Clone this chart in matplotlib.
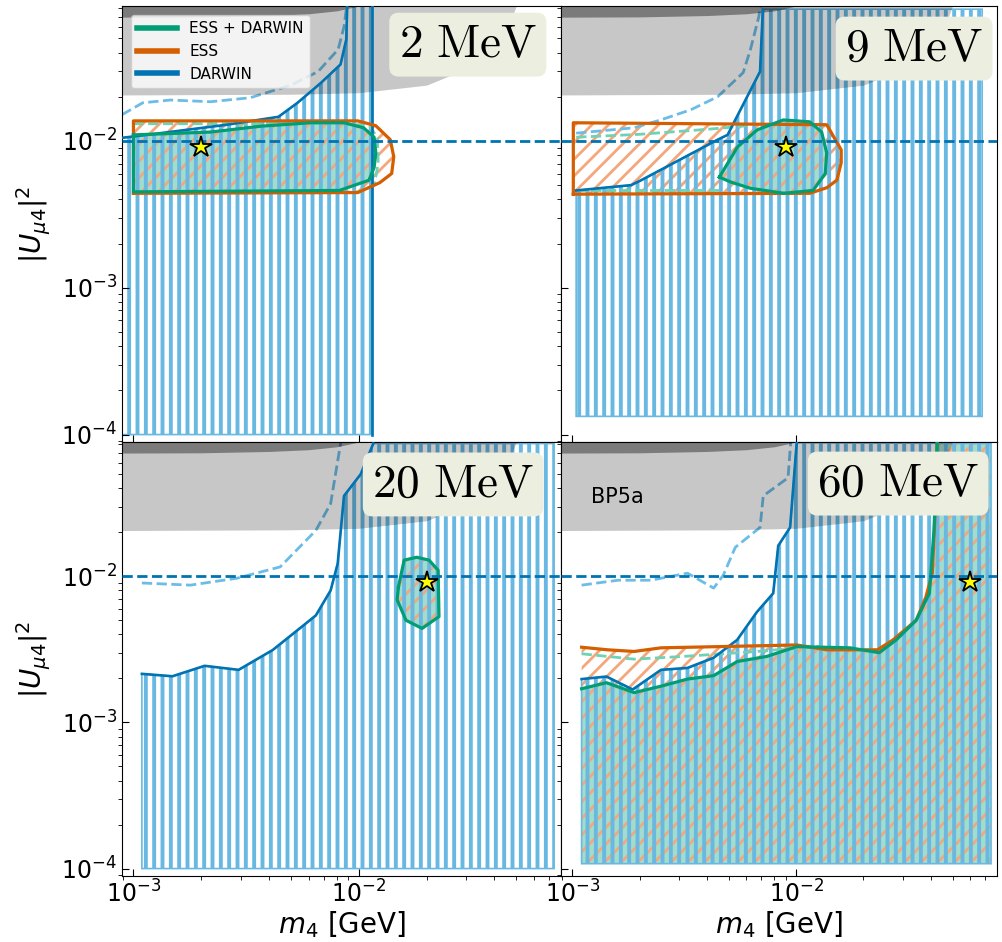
import numpy as np
import matplotlib
matplotlib.use("Agg")
import matplotlib.pyplot as plt
from matplotlib.patches import Polygon
from matplotlib.lines import Line2D

######################################################################
# Colours (colorblind palette)
C_DARWIN = "#0173B2"
C_ESS = "#D55E00"
C_BOTH = "#029E73"
C_HATCH_BLUE = "#68B8E2"
C_HATCH_ORANGE = "#F4A77C"
C_LIGHT_BLUE = "#6CBDE6"
C_LIGHT_GREEN = "#6ED2B4"
C_LABEL_BOX = "#ECEEDF"

XLIM = (8.9e-4, 0.079)
YLIM = (8.9e-5, 0.083)

######################################################################
# Existing bounds (grey bands, same in every panel)
gray_x = [5e-4, 5e-3, 1e-2, 2e-2, 3e-2, 4e-2, 4.6e-2, 5e-2]
gray_lo = [0.0205, 0.0208, 0.0213, 0.024, 0.031, 0.045, 0.06, 0.083]
band_x = [5e-4, 2e-3, 4e-3, 6e-3, 8e-3, 1e-2]
band_lo = [0.0695, 0.070, 0.0715, 0.0735, 0.077, 0.083]

######################################################################
# 2 MeV
d2_x = [8.9e-4, 1.32e-3, 2.6e-3, 4.4e-3, 5.35e-3, 6.8e-3, 8.3e-3, 8.8e-3, 8.9e-3]
d2_y = [0.0105, 0.0113, 0.0129, 0.0146, 0.0182, 0.0249, 0.0332, 0.049, 0.09]
lb2_x = [8.9e-4, 1.1e-3, 1.46e-3, 2.2e-3, 3.3e-3, 5.0e-3, 6.6e-3, 8.1e-3, 8.6e-3, 8.9e-3]
lb2_y = [0.0151, 0.0182, 0.019, 0.0185, 0.0197, 0.024, 0.0297, 0.042, 0.06, 0.09]
e2_x = [1.0e-3, 1.0e-3, 0.0099, 0.0119, 0.0138, 0.0143, 0.014, 0.0124, 0.0099]
e2_y = [4.4e-3, 0.0137, 0.0137, 0.0127, 0.0102, 7.8e-3, 6.0e-3, 5.2e-3, 4.45e-3]
g2_x = [1.0e-3, 2.2e-3, 3.67e-3, 6.1e-3, 8.6e-3, 0.0105, 0.0117, 0.0119, 0.0117,
        0.0111, 8.2e-3, 1.0e-3]
g2_y = [0.011, 0.0115, 0.0126, 0.0133, 0.0133, 0.0123, 0.0106, 8.3e-3, 6.6e-3,
        5.4e-3, 4.6e-3, 4.5e-3]
gd2_x = [1.0e-3, 3e-3, 8e-3, 0.0112, 0.0121, 0.0122, 0.0117, 0.0100, 1.0e-3, 1.0e-3]
gd2_y = [0.0131, 0.0131, 0.0133, 0.0126, 0.0105, 7e-3, 5.0e-3, 4.5e-3, 4.5e-3, 0.0131]
star2 = (2.0e-3, 9.1e-3)

# 9 MeV
d9_x = [1.04e-3, 1.83e-3, 2.03e-3, 4.46e-3, 4.94e-3, 6.9e-3, 7.1e-3]
d9_y = [4.6e-3, 5.0e-3, 5.4e-3, 0.0102, 0.011, 0.0297, 0.079]
lb9_x = [1.04e-3, 1.89e-3, 2.48e-3, 3.38e-3, 4.46e-3, 5.8e-3, 6.25e-3, 6.8e-3, 7.0e-3]
lb9_y = [0.0113, 0.0123, 0.0139, 0.0163, 0.020, 0.0292, 0.042, 0.0695, 0.09]
e9_x = [1.01e-3, 1.01e-3, 0.0137, 0.0159, 0.0159, 0.0152, 0.0137, 0.0115]
e9_y = [4.34e-3, 0.0133, 0.0129, 8.7e-3, 7.1e-3, 5.4e-3, 4.8e-3, 4.4e-3]
g9_x = [4.54e-3, 5.47e-3, 6.7e-3, 8.76e-3, 0.0115, 0.013, 0.0137, 0.0135, 0.0119,
        8.8e-3, 6.25e-3, 5.1e-3]
g9_y = [5.67e-3, 9.1e-3, 0.0119, 0.0139, 0.0135, 0.0115, 8.3e-3, 6.0e-3, 4.6e-3,
        4.4e-3, 4.76e-3, 5.25e-3]
gd9_top_x = [1.04e-3, 2e-3, 4e-3, 6.06e-3]
gd9_top_y = [0.0106, 0.0111, 0.0120, 0.0127]
gd9_bot_x = [1.04e-3, 4.7e-3]
gd9_bot_y = [4.6e-3, 4.6e-3]
star9 = (9.0e-3, 9.1e-3)

# 20 MeV
d20_x = [1.09e-3, 1.49e-3, 2.07e-3, 2.93e-3, 4.15e-3, 5.57e-3, 6.45e-3, 7.5e-3,
         8.06e-3, 8.6e-3, 0.0102, 0.0116]
d20_y = [2.15e-3, 2.07e-3, 2.44e-3, 2.29e-3, 3.13e-3, 4.5e-3, 5.4e-3, 8.0e-3,
         0.0122, 0.0355, 0.05, 0.081]
lb20_x = [1.09e-3, 1.79e-3, 2.88e-3, 4.48e-3, 6.45e-3, 7.5e-3, 8.2e-3, 8.4e-3]
lb20_y = [9.0e-3, 8.7e-3, 9.7e-3, 0.0116, 0.0206, 0.0314, 0.072, 0.09]
g20_x = [0.015, 0.0159, 0.0181, 0.0205, 0.0225, 0.0227, 0.0191, 0.0162, 0.0148]
g20_y = [8.46e-3, 0.0129, 0.0135, 0.0129, 0.0110, 5.3e-3, 4.4e-3, 5.0e-3, 6.9e-3]
star20 = (0.020, 9.1e-3)

# 60 MeV
d60_x = [1.10e-3, 1.42e-3, 1.86e-3, 2.49e-3, 3.27e-3, 4.28e-3, 5.45e-3, 6.68e-3,
         7.90e-3, 8.32e-3, 9.4e-3, 0.01006]
d60_y = [1.98e-3, 2.06e-3, 1.68e-3, 2.29e-3, 2.36e-3, 2.77e-3, 3.67e-3, 5.7e-3,
         7.65e-3, 0.0162, 0.0216, 0.082]
lb60_x = [1.1e-3, 1.6e-3, 2.24e-3, 3.27e-3, 4.28e-3, 4.73e-3, 5.35e-3, 6.9e-3,
          7.13e-3, 9.2e-3, 9.5e-3]
lb60_y = [8.7e-3, 9.4e-3, 9.4e-3, 0.0105, 8.3e-3, 0.0102, 0.0158, 0.0216, 0.0355,
          0.0472, 0.09]
e60_x = [1.1e-3, 1.44e-3, 1.89e-3, 2.49e-3, 4.44e-3, 0.01006, 0.0137, 0.0231,
         0.0271, 0.0344, 0.038, 0.0406, 0.042, 0.0427]
e60_y = [3.27e-3, 3.14e-3, 3.06e-3, 3.24e-3, 3.30e-3, 3.39e-3, 3.14e-3, 3.14e-3,
         3.67e-3, 5.0e-3, 7.2e-3, 0.0105, 0.0318, 0.082]
g60_x = [1.1e-3, 1.42e-3, 1.89e-3, 2.49e-3, 3.27e-3, 4.28e-3, 5.45e-3, 7.4e-3,
         0.01006, 0.0174, 0.0235, 0.028, 0.0344, 0.0394, 0.0413, 0.0427]
g60_y = [1.70e-3, 1.87e-3, 1.60e-3, 1.77e-3, 1.98e-3, 2.09e-3, 2.61e-3, 2.83e-3,
         3.30e-3, 3.24e-3, 3.0e-3, 3.67e-3, 5.0e-3, 7.65e-3, 0.0206, 0.082]
gd60_x = [1.1e-3, 1.89e-3, 3.14e-3, 6.68e-3, 0.0132]
gd60_y = [2.95e-3, 2.71e-3, 2.83e-3, 3.06e-3, 3.34e-3]
star60 = (0.0597, 9.1e-3)

# scan grid edges per panel: (right edge, top, bottom)
grid2 = (0.0115, 0.09, 1.0e-4)
grid9 = (0.0678, 0.079, 1.33e-4)
grid20 = (0.0736, 0.081, 1.0e-4)
grid60 = (0.0743, 0.081, 1.08e-4)

panel_labels = ["2", "9", "20", "60"]
legend_labels = ["ESS + DARWIN", "ESS", "DARWIN"]


def hatch_poly(ax, xs, ys, color, hatch, hlw, lw=0.0, z=1):
    plt.rcParams["hatch.linewidth"] = hlw
    p = Polygon(np.column_stack([xs, ys]), closed=True, facecolor="none",
                edgecolor=color, hatch=hatch, lw=lw, zorder=z)
    if hasattr(p, "set_hatch_linewidth"):
        p.set_hatch_linewidth(hlw)
    ax.add_patch(p)


def fill_poly(ax, xs, ys, z=0.8):
    p = Polygon(np.column_stack([xs, ys]), closed=True, facecolor=C_BOTH,
                alpha=0.36, lw=0, zorder=z)
    ax.add_patch(p)


def darwin_region(ax, dx, dy, grid):
    xr, top, bot = grid
    xs = [dx[0]] + list(dx) + [xr, xr]
    ys = [bot] + list(dy) + [top, bot]
    hatch_poly(ax, xs, ys, C_HATCH_BLUE, "||", 2.8, lw=1.2, z=1.2)
    ax.plot(dx, dy, color=C_DARWIN, lw=1.9, zorder=4)


def closed_line(ax, xs, ys, color, z=4.2):
    ax.plot(list(xs) + [xs[0]], list(ys) + [ys[0]], color=color, lw=2.3, zorder=z)


def common(ax, star):
    ax.fill_between(gray_x, gray_lo, 0.3, color="black", alpha=0.22, lw=0, zorder=3)
    ax.fill_between(band_x, band_lo, 0.3, color="black", alpha=0.38, lw=0, zorder=3.1)
    ax.axhline(1e-2, color=C_DARWIN, ls="--", lw=2.0, zorder=4.5)
    ax.plot(*star, marker="*", ms=16, mfc="yellow", mec="black", mew=1.3,
            ls="none", zorder=6)


fig = plt.figure(figsize=(10.02, 9.42), dpi=100)
ax_tl = fig.add_axes([0.1218, 0.5308, 0.4381, 0.4628])
ax_tr = fig.add_axes([0.5599, 0.5308, 0.4351, 0.4628])
ax_bl = fig.add_axes([0.1218, 0.0701, 0.4381, 0.4607])
ax_br = fig.add_axes([0.5599, 0.0701, 0.4351, 0.4607])
axes = [ax_tl, ax_tr, ax_bl, ax_br]

for ax in axes:
    ax.set_xscale("log")
    ax.set_yscale("log")
    ax.set_xlim(*XLIM)
    ax.set_ylim(*YLIM)
    ax.tick_params(which="major", direction="in", length=5, labelsize=17)
    ax.tick_params(which="minor", direction="out", length=3)

# ---- 2 MeV
ax = ax_tl
fill_poly(ax, g2_x, g2_y)
hatch_poly(ax, e2_x, e2_y, C_HATCH_ORANGE, "//", 2.0, z=1.1)
darwin_region(ax, d2_x, d2_y, grid2)
ax.plot([grid2[0], grid2[0]], [grid2[2], grid2[1]], color=C_DARWIN, lw=1.9, zorder=4)
ax.plot(lb2_x, lb2_y, color=C_LIGHT_BLUE, ls="--", lw=2.0, zorder=2)
ax.plot(gd2_x, gd2_y, color=C_LIGHT_GREEN, ls="--", lw=2.0, zorder=2)
closed_line(ax, e2_x, e2_y, C_ESS)
closed_line(ax, g2_x, g2_y, C_BOTH, z=4.3)
common(ax, star2)

# ---- 9 MeV
ax = ax_tr
fill_poly(ax, g9_x, g9_y)
hatch_poly(ax, e9_x, e9_y, C_HATCH_ORANGE, "//", 2.0, z=1.1)
darwin_region(ax, d9_x, d9_y, grid9)
ax.plot(lb9_x, lb9_y, color=C_LIGHT_BLUE, ls="--", lw=2.0, zorder=2)
ax.plot(gd9_top_x, gd9_top_y, color=C_LIGHT_GREEN, ls="--", lw=2.0, zorder=2)
ax.plot(gd9_bot_x, gd9_bot_y, color=C_LIGHT_GREEN, ls="--", lw=2.0, zorder=2)
closed_line(ax, e9_x, e9_y, C_ESS)
closed_line(ax, g9_x, g9_y, C_BOTH, z=4.3)
common(ax, star9)

# ---- 20 MeV
ax = ax_bl
fill_poly(ax, g20_x, g20_y)
hatch_poly(ax, g20_x, g20_y, C_HATCH_ORANGE, "//", 2.0, z=1.1)
darwin_region(ax, d20_x, d20_y, grid20)
ax.plot(lb20_x, lb20_y, color=C_LIGHT_BLUE, ls="--", lw=2.0, zorder=2)
closed_line(ax, g20_x, g20_y, C_BOTH, z=4.3)
common(ax, star20)

# ---- 60 MeV
ax = ax_br
xr, top, bot = grid60
fill_poly(ax, [g60_x[0]] + g60_x + [xr, xr], [bot] + g60_y + [top, bot])
hatch_poly(ax, [e60_x[0]] + e60_x + [xr, xr], [bot] + e60_y + [top, bot],
           C_HATCH_ORANGE, "//", 2.0, z=1.1)
darwin_region(ax, d60_x, d60_y, grid60)
ax.plot(lb60_x, lb60_y, color=C_LIGHT_BLUE, ls="--", lw=2.0, zorder=2)
ax.plot(gd60_x, gd60_y, color=C_LIGHT_GREEN, ls="--", lw=2.0, zorder=2)
ax.plot(e60_x, e60_y, color=C_ESS, lw=2.3, zorder=4.2)
ax.plot(g60_x, g60_y, color=C_BOTH, lw=2.3, zorder=4.3)
common(ax, star60)
ax.text(1.215e-3, 0.0318, "BP5a", fontsize=15, va="baseline", zorder=5)

# panel labels
label_pos = [(0.945, 0.963), (0.968, 0.954), (0.9385, 0.954), (0.959, 0.956)]
for ax, lab, (px, py) in zip(axes, panel_labels, label_pos):
    ax.text(px, py, r"$\mathrm{%s\ MeV}$" % lab, transform=ax.transAxes,
            ha="right", va="top", fontsize=34, math_fontfamily="cm", zorder=10,
            bbox=dict(boxstyle="round,pad=0.2", fc=C_LABEL_BOX, ec="none"))

# axis labels / tick labels
for ax in (ax_tl, ax_tr):
    ax.tick_params(labelbottom=False)
for ax in (ax_tr, ax_br):
    ax.tick_params(labelleft=False)
for ax in (ax_tl, ax_bl):
    ax.set_ylabel(r"$|U_{\mu4}|^2$", fontsize=20, labelpad=6)
for ax in (ax_bl, ax_br):
    ax.set_xlabel(r"$m_4$ [GeV]", fontsize=20, labelpad=1)

handles = [Line2D([], [], color=c, lw=4) for c in (C_BOTH, C_ESS, C_DARWIN)]
leg = ax_tl.legend(handles, legend_labels, loc="upper left", fontsize=11,
                   handlelength=2.6, framealpha=0.8, borderaxespad=0.6)
leg.set_zorder(11)

fig.savefig("out.png", dpi=100)
